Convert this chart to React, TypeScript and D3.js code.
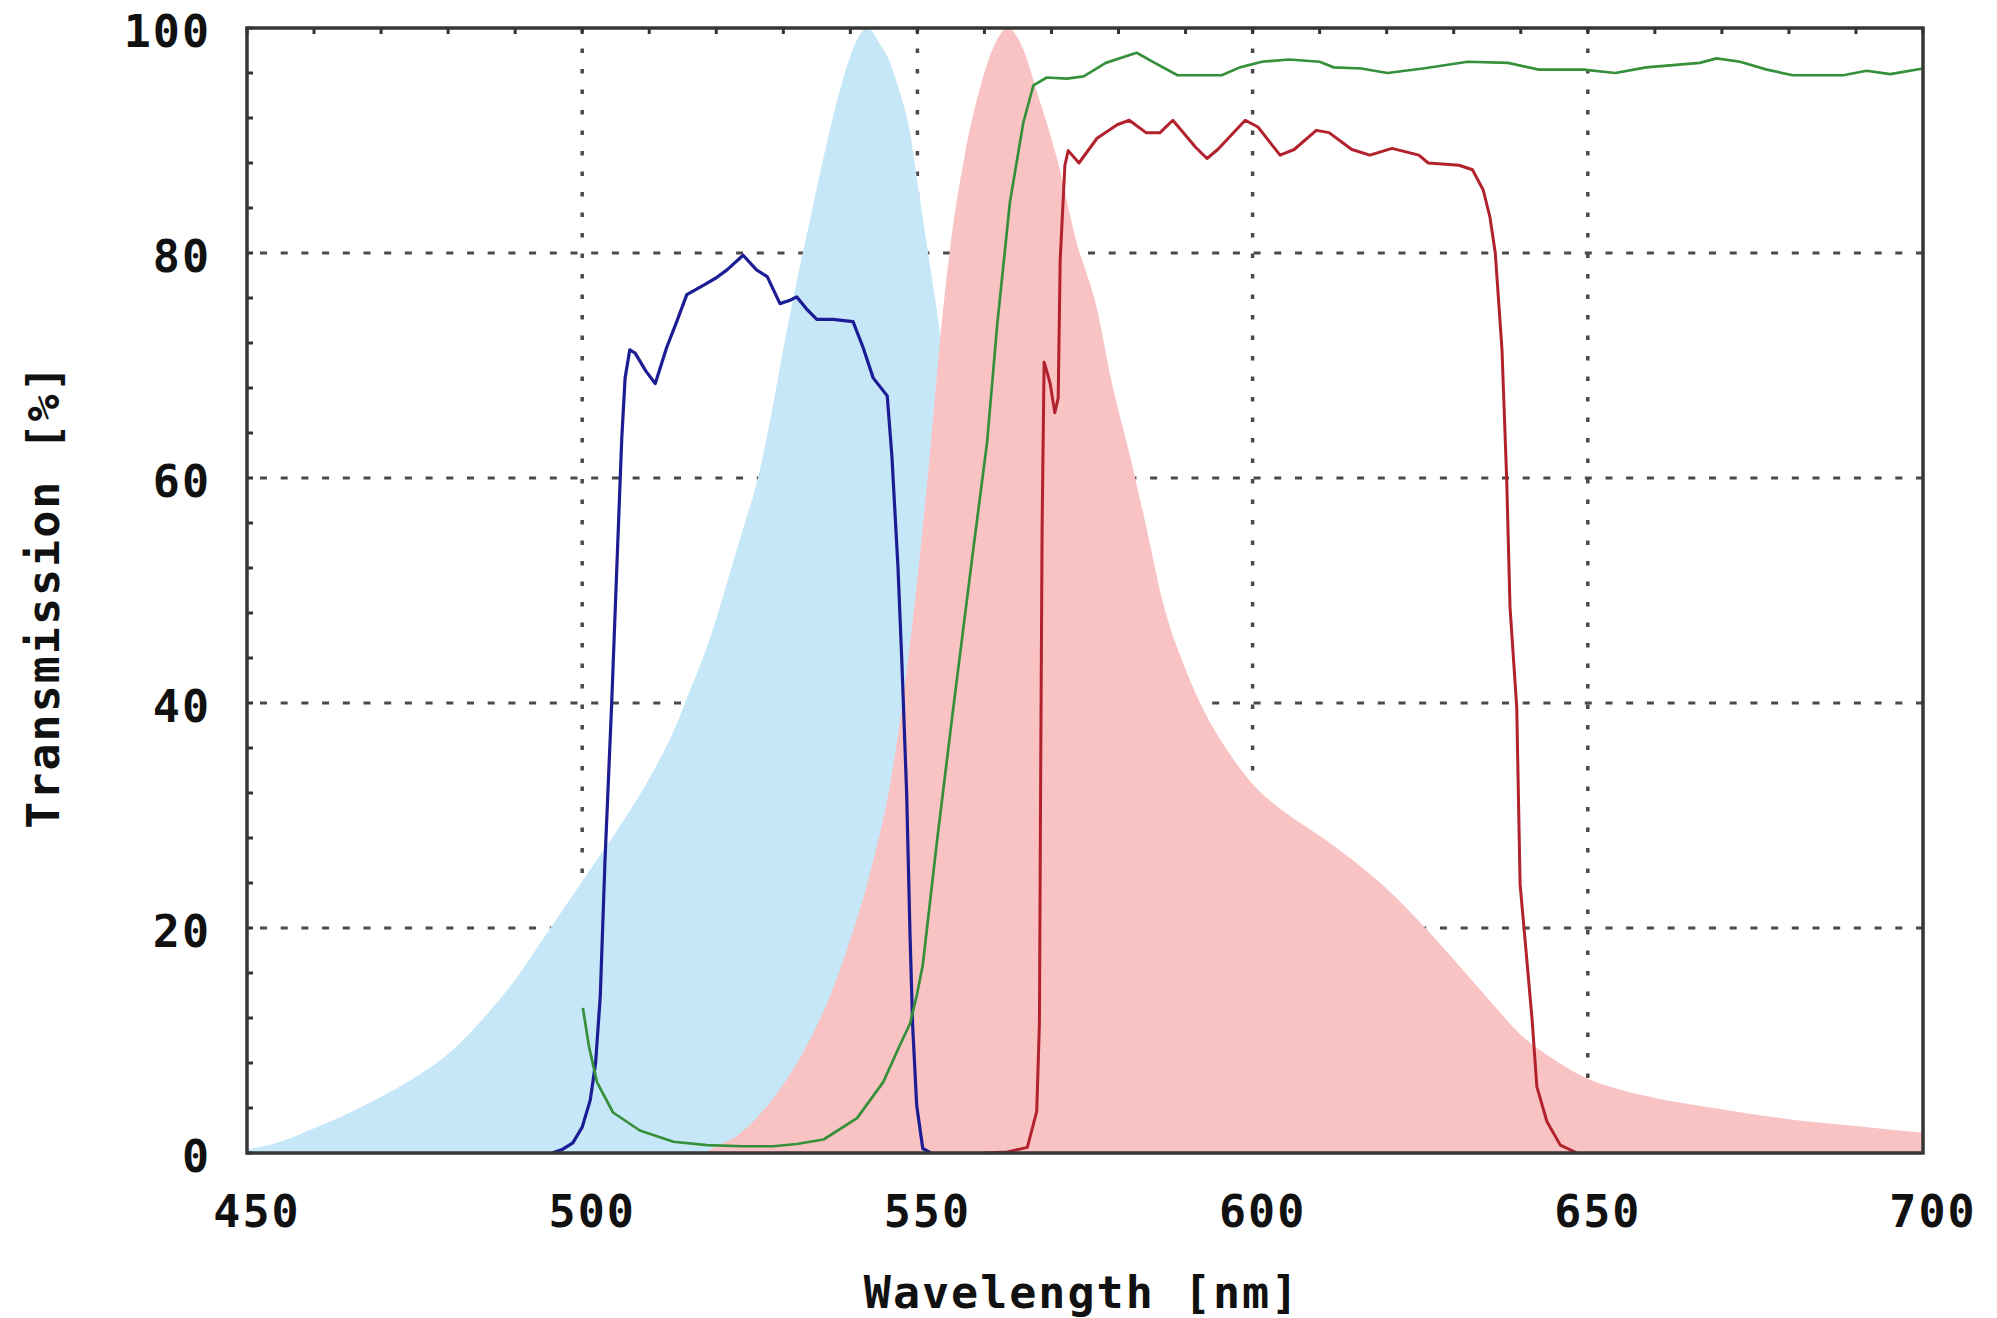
import React from 'react';
import * as d3 from 'd3';

// excitation spectrum (blue fill)
const exWl = [450, 455, 460, 465, 470, 475, 480, 485, 490, 494, 498, 502, 506, 510, 514, 516, 518, 520, 522, 524, 526, 528, 530, 532, 534, 536, 538, 540, 542.5, 544.5, 545.5, 547, 548.9, 550.4, 551.9, 553, 554, 556, 558, 560, 563, 566, 570, 575, 580, 585, 590, 600];
const exVal = [0.3, 1, 2.2, 3.5, 5, 6.7, 8.8, 11.8, 15.4, 18.9, 22.4, 25.9, 29.4, 33.3, 38, 41, 44, 47.5, 51.5, 55.5, 59.5, 65, 71.5, 77.5, 83, 88.5, 93.5, 97.5, 100, 98.5, 97.5, 95, 90.7, 84.7, 78.8, 74.5, 70, 62, 54, 46, 36, 27, 17, 9, 4.5, 2, 1, 0.3];

// emission spectrum (pink fill)
const emWl = [518, 520, 523, 528, 533, 537, 540, 543, 546, 548, 550, 552, 553.5, 555, 557, 559.5, 561.5, 563.5, 565.5, 568, 571, 573.5, 576.8, 579, 581.7, 584.2, 586.6, 590, 593, 596, 600, 605, 610, 615, 620, 625, 630, 635, 640, 645, 650, 655, 660, 670, 680, 690, 700];
const emVal = [0, 0.6, 1.5, 4.5, 9, 14, 19, 25, 33, 41, 51, 63, 73, 81, 88.5, 95, 98.5, 100, 98.5, 94, 88, 81.5, 75, 68.5, 62, 55.5, 49, 43, 39, 36, 32.8, 30.2, 28.2, 26, 23.5, 20.5, 17.2, 13.8, 10.5, 8.3, 6.6, 5.6, 4.9, 3.9, 3, 2.4, 1.8];

// excitation filter (blue line)
const exfWl = [495.5, 497, 498.6, 500, 501.2, 502, 502.7, 503.4, 504.4, 505.2, 505.9, 506.4, 507.1, 507.9, 509.5, 510.9, 512.6, 514.1, 515.6, 518, 520, 521.6, 524, 526, 527.6, 529.5, 531, 532, 533.5, 535, 537.4, 540.4, 541.9, 543.4, 545.5, 546.2, 547.1, 547.7, 548.4, 548.9, 549.3, 549.9, 550.8, 552];
const exfVal = [0, 0.3, 0.9, 2.3, 4.7, 8, 14, 26, 40, 52.6, 63.5, 68.9, 71.4, 71.1, 69.5, 68.4, 71.6, 73.9, 76.3, 77.1, 77.8, 78.5, 79.8, 78.5, 77.9, 75.5, 75.8, 76.1, 75, 74.1, 74.1, 73.9, 71.6, 68.9, 67.3, 61.9, 52.1, 43.4, 31.9, 19.4, 11.2, 4.2, 0.4, 0];

// dichroic mirror (green line)
const dmWl = [500.1, 501, 502.2, 504.6, 508.6, 513.6, 518.6, 524, 528.5, 532, 536, 541, 544.9, 547.4, 548.9, 549.9, 550.8, 552.9, 555.3, 558.3, 560.4, 561.9, 563.8, 565.8, 567.3, 569.3, 572.3, 574.8, 578.1, 582.7, 585.4, 588.8, 595.4, 598.1, 601.4, 605.4, 610, 612.1, 616.2, 620.1, 625.4, 632.1, 638.1, 642.7, 649.4, 654.1, 658.7, 666.7, 669.2, 672.7, 676.7, 680.6, 688.1, 691.6, 695.1, 700];
const dmVal = [12.9, 9.5, 6.3, 3.6, 2, 1, 0.7, 0.6, 0.6, 0.8, 1.2, 3.1, 6.3, 9.6, 11.5, 14, 16.7, 27.6, 39.3, 53.5, 63.2, 73.6, 84.5, 91.6, 94.9, 95.6, 95.5, 95.7, 96.9, 97.8, 96.9, 95.8, 95.8, 96.5, 97, 97.2, 97, 96.5, 96.4, 96, 96.4, 97, 96.9, 96.3, 96.3, 96, 96.5, 96.9, 97.3, 97, 96.3, 95.8, 95.8, 96.2, 95.9, 96.4];

// emission filter (red line)
const emfWl = [560, 563.4, 566.4, 567.8, 568.2, 568.4, 568.6, 568.9, 569.3, 569.8, 570.5, 571, 571.3, 572, 572.5, 574.1, 576.8, 579.8, 581.6, 584.1, 586.2, 588.1, 591.5, 593.2, 594.8, 598.9, 600.8, 604.1, 606.2, 609.5, 611.4, 614.8, 617.5, 620.8, 624.8, 626.2, 630.8, 632.8, 634.4, 635.4, 636.2, 637.2, 637.9, 638.4, 639.4, 639.9, 640.9, 641.7, 642.4, 643.9, 645.9, 648.4];
const emfVal = [0, 0.1, 0.5, 3.7, 11.5, 35, 55.5, 70.3, 69.5, 68.4, 65.8, 67.1, 79.4, 87.8, 89.1, 88, 90.2, 91.4, 91.8, 90.7, 90.7, 91.8, 89.4, 88.4, 89.2, 91.8, 91.2, 88.7, 89.2, 90.9, 90.7, 89.2, 88.7, 89.3, 88.7, 88, 87.8, 87.4, 85.6, 83.2, 80, 71.4, 59.9, 48.5, 39.6, 23.9, 17.2, 11.8, 5.9, 2.8, 0.7, 0];

const xTicks = [450, 500, 550, 600, 650, 700];
const yTicks = [0, 20, 40, 60, 80, 100];

const W = 1997, H = 1318;
const font = "'DejaVu Sans Mono', 'Liberation Mono', monospace";

export default function App() {
  const x = d3.scaleLinear().domain([450, 700]).range([247, 1923]);
  const y = d3.scaleLinear().domain([0, 100]).range([1153, 28]);

  const area = d3.area<[number, number]>()
    .x(d => x(d[0]))
    .y0(y(0))
    .y1(d => y(d[1]))
    .curve(d3.curveMonotoneX);
  const line = d3.line<[number, number]>()
    .x(d => x(d[0]))
    .y(d => y(d[1]));

  const ex = d3.zip(exWl, exVal) as [number, number][];
  const em = d3.zip(emWl, emVal) as [number, number][];
  const exf = d3.zip(exfWl, exfVal) as [number, number][];
  const dm = d3.zip(dmWl, dmVal) as [number, number][];
  const emf = d3.zip(emfWl, emfVal) as [number, number][];

  const xMinor = x.ticks(25);
  const yMinor = d3.range(0, 101, 4);
  const [x0, x1] = x.range();
  const [y0, y1] = y.range();

  return (
    <div style={{ position: 'absolute', left: 0, top: 0 }}>
      <svg width={W} height={H} fontFamily={font}>
        <rect width={W} height={H} fill="white" />
        {/* grid */}
        {xTicks.slice(1, -1).map(t =>
          <line key={'gx' + t} x1={x(t)} x2={x(t)} y1={y1} y2={y0} stroke="#4a4a4a" strokeWidth={3.5} strokeDasharray="4.5 16" />
        )}
        {yTicks.slice(1, -1).map(t =>
          <line key={'gy' + t} x1={x0} x2={x1} y1={y(t)} y2={y(t)} stroke="#4a4a4a" strokeWidth={3} strokeDasharray="7 13.7" strokeDashoffset={-13} />
        )}
        {/* spectra */}
        <path d={area(ex) || ''} fill="#c6e7f8" />
        <path d={area(em) || ''} fill="#f9c3c3" />
        {/* filters */}
        <path d={line(exf) || ''} fill="none" stroke="#1c1c94" strokeWidth={3.2} strokeLinejoin="round" />
        <path d={line(dm) || ''} fill="none" stroke="#36903a" strokeWidth={2.7} strokeLinejoin="round" />
        <path d={line(emf) || ''} fill="none" stroke="#b2222c" strokeWidth={3} strokeLinejoin="round" />
        {/* ticks */}
        {xMinor.map(t =>
          <line key={'tx' + t} x1={x(t)} x2={x(t)} y1={y1} y2={y1 + 6} stroke="#333" strokeWidth={3} />
        )}
        {yMinor.map(t =>
          <line key={'ty' + t} x1={x0} x2={x0 + 6} y1={y(t)} y2={y(t)} stroke="#333" strokeWidth={3} />
        )}
        {/* frame */}
        <rect x={x0} y={y1} width={x1 - x0} height={y0 - y1} fill="none" stroke="#363636" strokeWidth={3.5} />
        {/* labels */}
        {yTicks.map(t =>
          <text key={'ly' + t} x={211} y={y(t) + 3} textAnchor="end" dominantBaseline="central" fontSize={45} fontWeight="bold" letterSpacing={2} fill="#111">{t}</text>
        )}
        {xTicks.map(t =>
          <text key={'lx' + t} x={x(t) + 10} y={1211} textAnchor="middle" dominantBaseline="central" fontSize={45} fontWeight="bold" letterSpacing={2} fill="#111">{t}</text>
        )}
        <text x={1082} y={1308} textAnchor="middle" fontSize={45} fontWeight="bold" letterSpacing={2} fill="#111">Wavelength [nm]</text>
        <text transform="translate(43,596) rotate(-90)" textAnchor="middle" dominantBaseline="central" fontSize={45} fontWeight="bold" letterSpacing={2} fill="#111">Transmission [%]</text>
      </svg>
    </div>
  );
}
